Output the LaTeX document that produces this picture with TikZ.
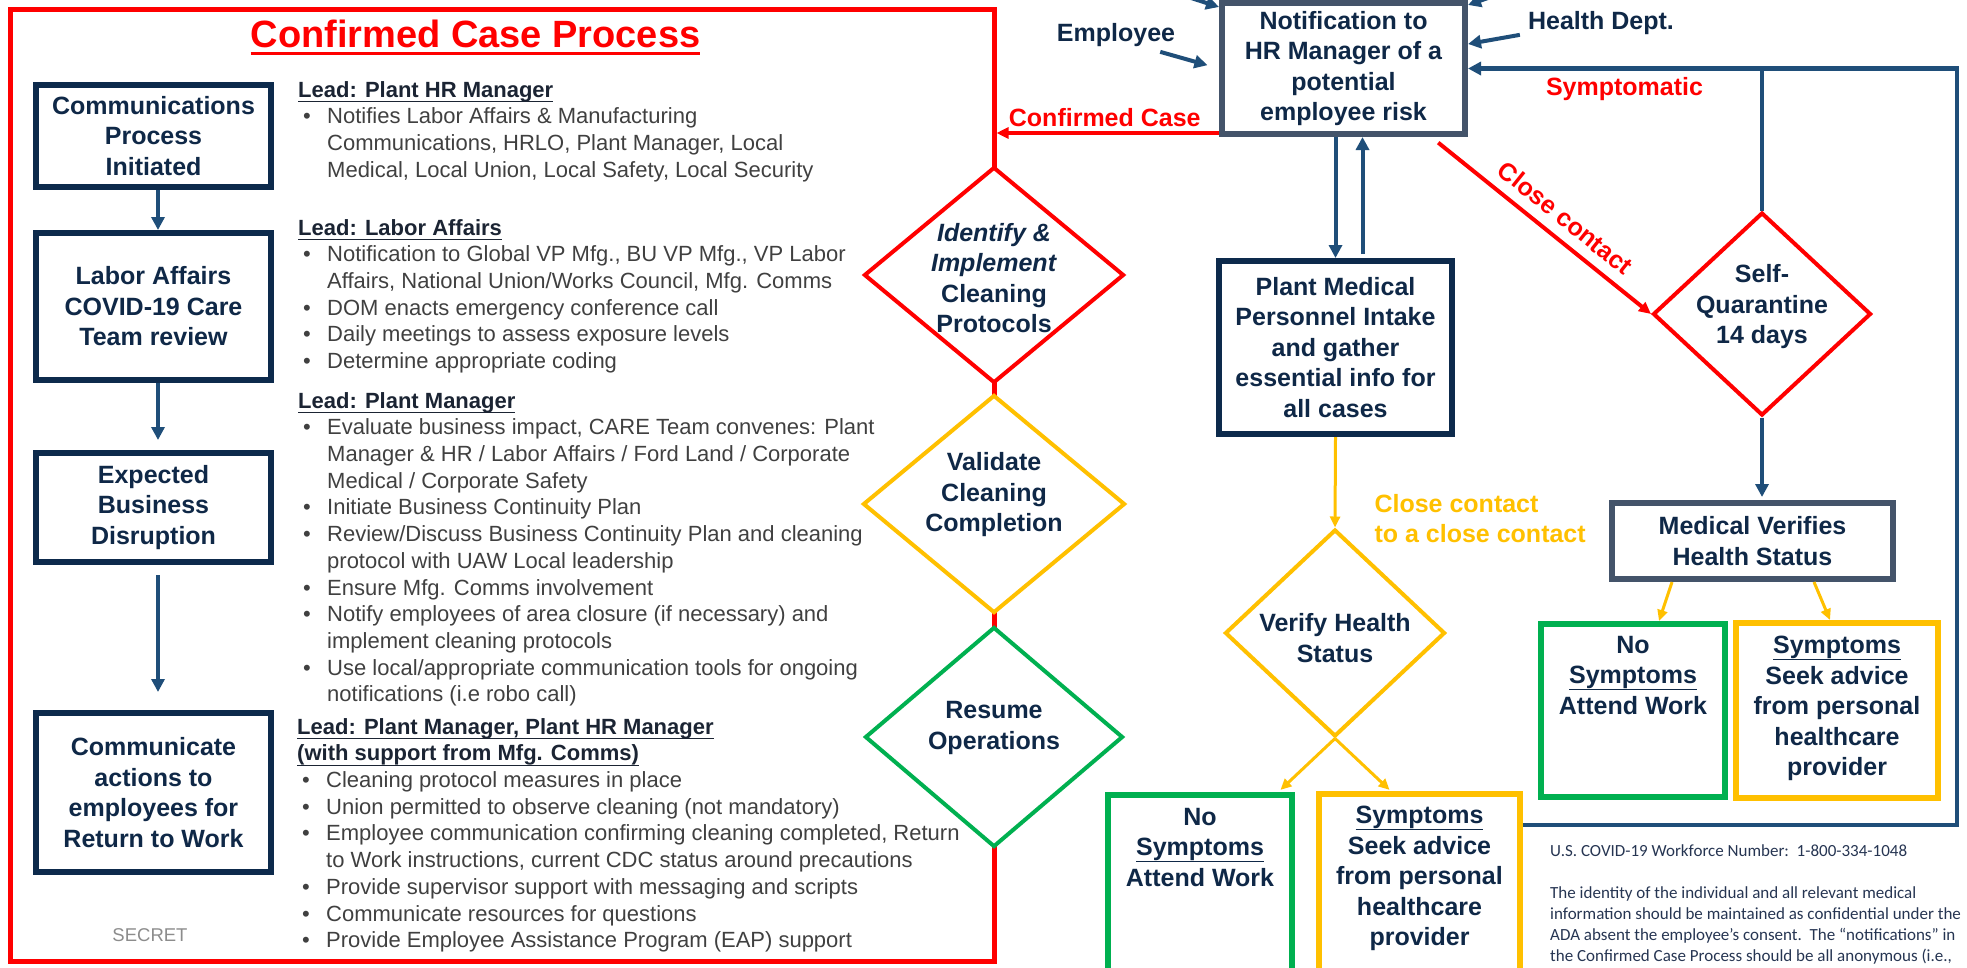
\documentclass[tikz,border=0pt]{standalone}
\usepackage{fontspec}
\setmainfont{Liberation Sans}
\newfontfamily\notefont{Carlito}
\usetikzlibrary{positioning}
\usetikzlibrary{shapes.geometric,arrows.meta,calc}

\definecolor{boxnavy}{HTML}{0D2A4C}
\definecolor{txtnavy}{HTML}{0F2847}
\definecolor{linkblue}{HTML}{1F4E79}
\definecolor{slate}{HTML}{44546A}
\definecolor{alertred}{HTML}{FF0000}
\definecolor{amber}{HTML}{FFC000}
\definecolor{okgreen}{HTML}{00B050}
\definecolor{bodygray}{HTML}{404040}
\definecolor{noteink}{HTML}{263552}
\definecolor{leadink}{HTML}{1B2433}
\definecolor{secretgray}{HTML}{8C8C8C}

% underline: #1 thickness, #2 depth below baseline, #3 text
\newsavebox{\ulbox}
\newcommand{\undl}[3]{\sbox\ulbox{#3}\rlap{\rule[-#2]{\wd\ulbox}{#1}}\usebox\ulbox}
\newcommand{\boxfont}{\bfseries\fontsize{25}{30.5}\selectfont}
\newcommand{\leadfont}{\fontsize{22}{26.7}\selectfont}
\newcommand{\leadhead}[1]{\textcolor{leadink}{\bfseries\undl{1.3pt}{5pt}{#1}}}
\newcommand{\symhead}{\undl{1.6pt}{6.5pt}{Symptoms}}
\newcommand{\bulitem}{\hspace*{5pt}\makebox[24pt][l]{\textbullet}}
\newcommand{\bulcont}{\hspace*{29pt}}

\tikzset{
  navybox/.style={draw=boxnavy,line width=6pt,fill=white,align=center,inner sep=0pt,text=txtnavy,font=\boxfont},
  greenframe/.style={draw=okgreen,line width=6pt},
  amberframe/.style={draw=amber,line width=6pt},
  diabox/.style={diamond,line width=4pt,fill=white,inner sep=0pt},
  diatext/.style={align=center,inner sep=0pt,text=txtnavy,font=\boxfont},
  symtext/.style={align=center,inner sep=0pt,text=txtnavy,font=\boxfont},
  leadblock/.style={anchor=north west,align=left,inner sep=0pt,text=bodygray,font=\leadfont},
  flowlabel/.style={inner sep=0pt,font=\bfseries\fontsize{25}{30}\selectfont},
  notes/.style={anchor=north west,align=left,inner sep=0pt,text=noteink,font=\notefont\fontsize{17}{21.3}\selectfont},
  linkarrow/.style={draw=linkblue,line width=4pt,-{Triangle[length=13pt,width=13pt]}},
  retlink/.style={draw=linkblue,line width=4.5pt},
  redlink/.style={draw=alertred,line width=5pt},
  redarrow/.style={draw=alertred,line width=4pt,-{Triangle[length=12pt,width=11pt]}},
  amberarrow/.style={draw=amber,line width=3pt,-{Triangle[length=11pt,width=10pt]}}
}

\begin{document}
\begin{tikzpicture}[x=1pt,y=-1pt]
  \useasboundingbox (0,0) rectangle (1967,967);

  % confirmed case process frame
  \node at (502,485) [draw=alertred,line width=5pt,minimum width=984pt,minimum height=952pt] (ccFrame) {};

  \node at (475.5,47) [anchor=base,inner sep=0pt,text=alertred,font=\bfseries\fontsize{38}{42}\selectfont] (ccTitle) {
    \undl{3pt}{8pt}{Confirmed Case Process}
  };

  % left column
  \node at (153.5,136) [navybox,minimum width=235pt,minimum height=102pt] (bInit) {
    Communications\\Process\\Initiated
  };

  \node at (153.5,306.5) [navybox,minimum width=235pt,minimum height=147pt] (bCare) {
    Labor Affairs\\COVID-19 Care\\Team review
  };

  \node at (153.5,507.5) [navybox,minimum width=235pt,minimum height=109pt] (bDisr) {
    Expected\\Business\\Disruption
  };

  \node at (153.5,792.5) [navybox,minimum width=235pt,minimum height=159pt] (bComm) {
    Communicate\\actions to\\employees for\\Return to Work
  };

  \draw[linkarrow,line width=3.5pt] ([xshift=4.5pt]bInit.south) -- ([xshift=4.5pt]bCare.north);
  \draw[linkarrow,line width=3.5pt,shorten >=10pt] ([xshift=4.5pt]bCare.south) -- ([xshift=4.5pt]bDisr.north);
  \draw[linkarrow,line width=3.5pt,shorten <=10pt,shorten >=18pt] ([xshift=4.5pt]bDisr.south) -- ([xshift=4.5pt]bComm.north);

  % cleaning diamonds on the frame edge
  \node at (994,275) [diabox,draw=alertred,minimum width=260pt,minimum height=216pt] (dIdent) {};
  \node at (994,504) [diabox,draw=amber,minimum width=262pt,minimum height=218pt] (dValid) {};
  \node at (994,737) [diabox,draw=okgreen,minimum width=258pt,minimum height=220pt] (dResume) {};

  \draw[redlink] (dIdent.south) -- (dValid.north);
  \draw[redlink] (dValid.south) -- (dResume.north);

  \node at ([yshift=-3pt]dIdent.center) [diatext] (tIdent) {
    \textit{Identify \&}\\\textit{Implement}\\Cleaning\\Protocols
  };
  \node at ([yshift=9pt]dValid.center) [diatext] (tValid) {
    Validate\\Cleaning\\Completion
  };
  \node at ([yshift=9pt]dResume.center) [diatext] (tResume) {
    Resume\\Operations
  };

  % lead texts
  \node at (298,81) [leadblock] (leadHR) {
    \leadhead{Lead: Plant HR Manager}\\
    \bulitem Notifies Labor Affairs \& Manufacturing\\
    \bulcont Communications, HRLO, Plant Manager, Local\\
    \bulcont Medical, Local Union, Local Safety, Local Security
  };

  \node at (298,219) [leadblock] (leadLA) {
    \leadhead{Lead: Labor Affairs}\\
    \bulitem Notification to Global VP Mfg., BU VP Mfg., VP Labor\\
    \bulcont Affairs, National Union/Works Council, Mfg. Comms\\
    \bulitem DOM enacts emergency conference call\\
    \bulitem Daily meetings to assess exposure levels\\
    \bulitem Determine appropriate coding
  };

  \node at (298,392) [leadblock] (leadPM) {
    \leadhead{Lead: Plant Manager}\\
    \bulitem Evaluate business impact, CARE Team convenes: Plant\\
    \bulcont Manager \& HR / Labor Affairs / Ford Land / Corporate\\
    \bulcont Medical / Corporate Safety\\
    \bulitem Initiate Business Continuity Plan\\
    \bulitem Review/Discuss Business Continuity Plan and cleaning\\
    \bulcont protocol with UAW Local leadership\\
    \bulitem Ensure Mfg. Comms involvement\\
    \bulitem Notify employees of area closure (if necessary) and\\
    \bulcont implement cleaning protocols\\
    \bulitem Use local/appropriate communication tools for ongoing\\
    \bulcont notifications (i.e robo call)
  };

  \node at (297,718) [leadblock] (leadBoth) {
    \leadhead{Lead: Plant Manager, Plant HR Manager}\\
    \leadhead{(with support from Mfg. Comms)}\\
    \bulitem Cleaning protocol measures in place\\
    \bulitem Union permitted to observe cleaning (not mandatory)\\
    \bulitem Employee communication confirming cleaning completed, Return\\
    \bulcont to Work instructions, current CDC status around precautions\\
    \bulitem Provide supervisor support with messaging and scripts\\
    \bulitem Communicate resources for questions\\
    \bulitem Provide Employee Assistance Program (EAP) support
  };

  \node at (150,941) [anchor=base,inner sep=0pt,text=secretgray,font=\fontsize{18.5}{20}\selectfont] (secret) {SECRET};

  % notification and intake
  \node at (1343.5,68.5) [navybox,draw=slate,minimum width=243pt,minimum height=131pt] (notif) {
    Notification to\\HR Manager of a\\potential\\employee risk
  };

  \node at (1116,35) [flowlabel,text=txtnavy] (lblEmp) {Employee};
  \node at (1601,23) [flowlabel,text=txtnavy] (lblHealth) {Health Dept.};

  \coordinate (srcTL) at (1160,-12);
  \coordinate (srcTR) at (1522,-14);

  \draw[linkarrow] (srcTL) -- ([yshift=-7pt]notif.north west);
  \draw[linkarrow] (srcTR) -- ([yshift=-5pt]notif.north east);
  \draw[linkarrow,shorten >=12pt] ([xshift=-15pt,yshift=-5pt]lblEmp.south east) -- (notif.west);
  \draw[linkarrow] ([xshift=-8pt]lblHealth.south west) -- ([yshift=24.5pt]notif.east);

  \node at (1335.5,347.5) [navybox,minimum width=233pt,minimum height=173pt] (pMed) {
    Plant Medical\\Personnel Intake\\and gather\\essential info for\\all cases
  };

  \draw[linkarrow] (pMed.north |- notif.south) -- (pMed.north);
  \draw[linkarrow,shorten <=4pt] ([xshift=27pt]pMed.north) -- ([xshift=27pt]pMed.north |- notif.south);

  \coordinate (ccStart) at ([yshift=4pt]notif.south west);
  \draw[redarrow] (ccStart) -- (ccStart -| ccFrame.east)
    node[midway,above=4pt,xshift=-3pt,flowlabel,text=alertred] (lblConf) {Confirmed Case};

  % close contact branch
  \node at (1762,314) [diabox,draw=alertred,minimum width=218pt,minimum height=203pt] (dQuar) {};
  \node at ([yshift=7pt]dQuar.center) [diatext] (tQuar) {
    Self-\\Quarantine\\14 days
  };

  \draw[redarrow,shorten <=9pt] (notif.-38) -- (dQuar.west)
    node[pos=.55,sloped,above=10pt,flowlabel,text=alertred] (lblClose) {Close contact};

  \node at (1752.5,541) [navybox,draw=slate,minimum width=281pt,minimum height=76pt] (mVer) {
    Medical Verifies\\Health Status
  };

  \draw[linkarrow,shorten >=3pt] (dQuar.south) -- (dQuar.south |- mVer.north);

  \node at (1633,710.5) [greenframe,minimum width=184pt,minimum height=173pt] (nsRight) {};
  \node [symtext,below=15pt of nsRight.north] (nsRightTxt) {
    No\\\symhead\\Attend Work
  };
  \node at (1837,710.5) [amberframe,minimum width=202pt,minimum height=175pt] (syRight) {};
  \node [symtext,below=16pt of syRight.north] (syRightTxt) {
    \symhead\\Seek advice\\from personal\\healthcare\\provider
  };

  \draw[amberarrow] ([xshift=-80.5pt]mVer.south) -- ([xshift=26pt]nsRight.north);
  \draw[amberarrow] ([xshift=61.5pt]mVer.south) -- ([xshift=-7pt]syRight.north);

  % close contact to a close contact
  \node at (1335,633) [diabox,draw=amber,minimum width=220pt,minimum height=207pt] (dVerify) {};
  \node at ([yshift=-5pt]dVerify.center) [diatext] (tVerify) {
    Verify Health\\Status
  };

  \draw[amberarrow] (pMed.south) -- (dVerify.north)
    node[pos=.9,right=38pt,flowlabel,align=left,text=amber] (lblCC) {Close contact\\to a close contact};

  \node at (1200,900) [greenframe,minimum width=184pt,minimum height=210pt] (nsMid) {};
  \node [symtext,below=16pt of nsMid.north] (nsMidTxt) {
    No\\\symhead\\Attend Work
  };
  \node at (1419.5,899) [amberframe,minimum width=201pt,minimum height=210pt] (syMid) {};
  \node [symtext,below=15pt of syMid.north] (syMidTxt) {
    \symhead\\Seek advice\\from personal\\healthcare\\provider
  };

  \draw[amberarrow,shorten >=2pt] (dVerify.south) -- ($(dVerify.south)!-0.5!(dVerify.east)$);
  \draw[amberarrow,shorten >=2pt] (dVerify.south) -- ($(dVerify.south)!-0.5!(dVerify.west)$);

  % symptomatic return loop
  \coordinate (retTop) at (1957,68.5);
  \coordinate (retBot) at (1957,825);

  \draw[retlink,-{Triangle[length=13pt,width=13pt]}] (retBot -| syMid.east) -- (retBot) -- (retTop) -- (notif.east)
    node[pos=.68,below=7pt,flowlabel,text=alertred] (lblSympt) {Symptomatic};
  \draw[retlink] (dQuar.north) -- (dQuar.north |- retTop);

  % notes
  \node at (1550,844) [notes] (noteLine) {U.S. COVID-19 Workforce Number:\ \ 1-800-334-1048};
  \node at (1550,886) [notes] (noteADA) {
    The identity of the individual and all relevant medical\\
    information should be maintained as confidential under the\\
    ADA absent the employee’s consent.\ \ The “notifications” in\\
    the Confirmed Case Process should be all anonymous (i.e.,
  };
\end{tikzpicture}
\end{document}
